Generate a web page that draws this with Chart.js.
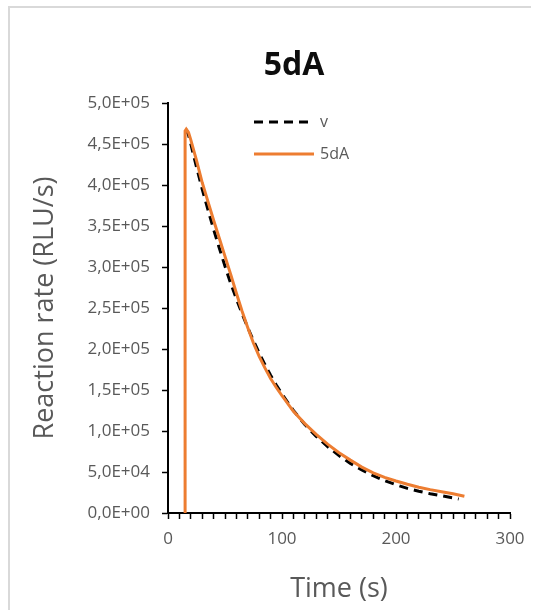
<!DOCTYPE html>
<html>
<head>
<meta charset="utf-8">
<script src="https://cdn.jsdelivr.net/npm/chart.js@4.4.1/dist/chart.umd.min.js"></script>
<style>
    html, body { margin: 0; padding: 0; background: #fff; }
    #wrap { width: 540px; height: 610px; position: relative; }
</style>
</head>
<body>
<div id="wrap"><canvas id="myChart" width="540" height="610"></canvas></div>
<script>
const chartTitle = "5dA";
const xTitle = "Time (s)";
const yTitle = "Reaction rate (RLU/s)";

// model curve (dashed)
const timeV = [16, 18, 20, 25, 30, 35, 40, 45, 50, 55, 60, 65, 70, 75, 80, 85, 90, 95, 100, 110, 120, 130, 140, 150, 160, 170, 180, 190, 200, 210, 220, 230, 240, 250, 255];
const rateV = [468000, 461000, 450000, 422000, 395000, 370000, 346000, 323000, 301000, 280000, 261000, 243000, 226000, 210000, 195000, 181000, 168000, 156000, 145000, 125000, 108000, 93500, 81000, 70000, 60500, 52500, 45500, 39500, 34500, 30000, 26500, 23500, 21000, 18500, 17000];

// measured 5dA
const time5dA = [15, 15, 16, 18, 20, 25, 30, 35, 40, 45, 50, 55, 60, 65, 70, 75, 80, 85, 90, 95, 100, 110, 120, 130, 140, 150, 160, 170, 180, 190, 200, 210, 220, 230, 240, 250, 260];
const rate5dA = [0, 466000, 468000, 464000, 455000, 430000, 403000, 380000, 357000, 335000, 313000, 291000, 268000, 246000, 226000, 207000, 191000, 177000, 164000, 153000, 143000, 124000, 109000, 96000, 84000, 73500, 64500, 56000, 49000, 43500, 39000, 35000, 31500, 28500, 26000, 23500, 20500];

const seriesNames = ["v", "5dA"];
const seriesColors = ["#000000", "#ED7D31"];

const toPoints = (xs, ys) => xs.map((x, i) => ({ x: x, y: ys[i] }));

// 5,0E+05 style labels
function sciLabel(v) {
    const parts = Number(v).toExponential(1).split("e");
    const sign = parts[1][0];
    const digits = parts[1].slice(1).padStart(2, "0");
    return parts[0].replace(".", ",") + "E" + sign + digits;
}

const frameAndLegend = {
    id: "frameAndLegend",
    beforeDraw(chart) {
        const ctx = chart.ctx;
        ctx.save();
        ctx.strokeStyle = "#d9d9d9";
        ctx.lineWidth = 2;
        ctx.beginPath();
        ctx.moveTo(9, 610);
        ctx.lineTo(9, 7);
        ctx.lineTo(531, 7);
        ctx.stroke();
        ctx.restore();
    },
    afterDraw(chart) {
        const ctx = chart.ctx;
        ctx.save();
        // title
        ctx.fillStyle = "#0d0d0d";
        ctx.font = "bold 32px 'Open Sans'";
        ctx.textAlign = "center";
        ctx.textBaseline = "middle";
        ctx.fillText(chartTitle, 294, 66);

        // legend
        ctx.font = "16px 'Open Sans'";
        ctx.textAlign = "left";
        const rows = [122, 154];
        chart.data.datasets.forEach((ds, i) => {
            const y = rows[i];
            ctx.strokeStyle = ds.borderColor;
            ctx.lineWidth = 3;
            ctx.setLineDash(ds.borderDash || []);
            ctx.beginPath();
            ctx.moveTo(254, y);
            ctx.lineTo(314, y);
            ctx.stroke();
            ctx.setLineDash([]);
            ctx.fillStyle = "#595959";
            ctx.fillText(ds.label, 320, y);
        });
        ctx.restore();
    },
};

const ctx = document.getElementById("myChart").getContext("2d");
const myChart = new Chart(ctx, {
    type: "scatter",
    data: {
        datasets: [
            {
                label: seriesNames[0],
                data: toPoints(timeV, rateV),
                showLine: true,
                borderColor: seriesColors[0],
                borderWidth: 3,
                borderDash: [9, 6],
                pointRadius: 0,
                order: 1,
            },
            {
                label: seriesNames[1],
                data: toPoints(time5dA, rate5dA),
                showLine: true,
                borderColor: seriesColors[1],
                borderWidth: 3,
                pointRadius: 0,
                order: 0,
            },
        ],
    },
    options: {
        responsive: false,
        animation: false,
        layout: { padding: { left: 0, right: 30, top: 103, bottom: 0 } },
        plugins: {
            legend: { display: false },
            tooltip: { enabled: false },
        },
        scales: {
            x: {
                type: "linear",
                min: 0,
                max: 300,
                afterFit: (scale) => { scale.height = 97; },
                border: { color: "#000", width: 2 },
                grid: { drawOnChartArea: false, color: "#000", tickLength: 6, tickWidth: 1.5 },
                ticks: {
                    stepSize: 10,
                    autoSkip: false,
                    maxRotation: 0,
                    padding: 10,
                    color: "#595959",
                    font: { family: "'Open Sans'", size: 17 },
                    callback: (v) => (v % 100 === 0 ? v : ""),
                },
                title: {
                    display: true,
                    text: xTitle,
                    color: "#595959",
                    font: { family: "'Open Sans'", size: 27 },
                    padding: { top: 0, bottom: 4 },
                },
            },
            y: {
                min: 0,
                max: 500000,
                afterFit: (scale) => { scale.width = 168; },
                border: { color: "#000", width: 2 },
                grid: { drawOnChartArea: false, color: "#000", tickLength: 6, tickWidth: 1.5 },
                ticks: {
                    stepSize: 50000,
                    padding: 12,
                    color: "#595959",
                    font: { family: "'Open Sans'", size: 17 },
                    callback: (v) => sciLabel(v),
                },
                title: {
                    display: true,
                    text: yTitle,
                    color: "#595959",
                    font: { family: "'Open Sans'", size: 27 },
                    padding: { top: 29, bottom: 0 },
                },
            },
        },
    },
    plugins: [frameAndLegend],
});
</script>
</body>
</html>
